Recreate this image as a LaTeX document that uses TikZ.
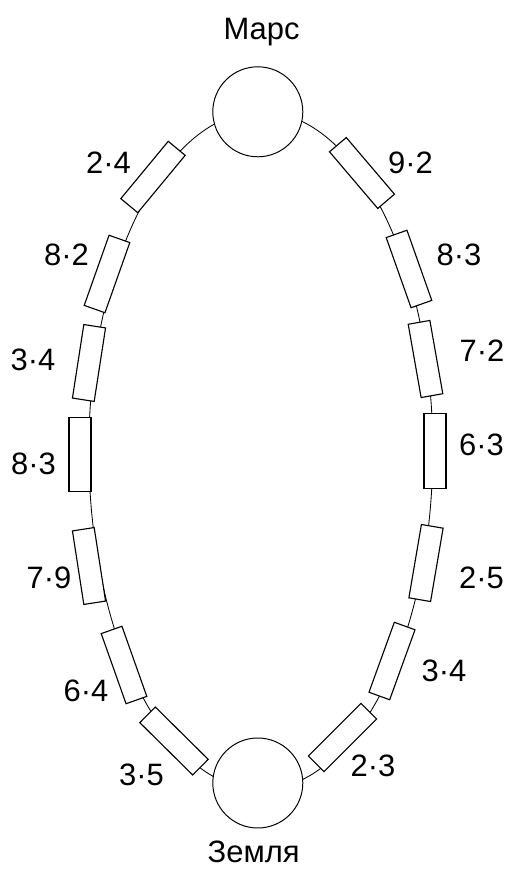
\documentclass[tikz,border=0pt]{standalone}
\usepackage{fontspec}
\setmainfont{Liberation Sans}

\begin{document}
\begin{tikzpicture}[
		planet/.style={circle, draw, line width=0.7pt, fill=white, minimum size=2.25cm, inner sep=0pt},
		modul/.style={rectangle, draw, line width=0.8pt, fill=white, minimum width=1.86cm, minimum height=0.55cm, inner sep=0pt},
		num/.style={font=\fontsize{22}{26}\selectfont, inner sep=0pt}
	]
			%%%%% START %%%%%
			
			\useasboundingbox (0, 0) rectangle (12.7, 21.725);
			
			\draw[line width=0.6pt] (6.52, 10.46) ellipse (4.3 and 8.475);
			
			\node[planet] (mars) at (6.445, 18.93) {};
			\node[planet] (zemlya) at (6.445, 2.15) {};
			\node[num, anchor=base] (marsname) at (6.54, 20.73) {Марс};
			\node[num, anchor=base] (zemlyaname) at (6.34, 0.15) {Земля};
			
			% left side, top to bottom
			\node[modul, rotate=50.4] (l1) at (3.825, 17.3) {};
			\node[modul, rotate=70.5] (l2) at (2.675, 14.875) {};
			\node[modul, rotate=81.2] (l3) at (2.225, 12.65) {};
			\node[modul, rotate=90] (l4) at (2.0, 10.3625) {};
			\node[modul, rotate=98.8] (l5) at (2.225, 7.575) {};
			\node[modul, rotate=109.5] (l6) at (3.1, 5.1) {};
			\node[modul, rotate=135.3] (l7) at (4.35, 3.2) {};
			
			\node[num] (l1t) at (2.7125, 17.6625) {2·4};
			\node[num] (l2t) at (1.6625, 15.35) {8·2};
			\node[num] (l3t) at (0.825, 12.7375) {3·4};
			\node[num] (l4t) at (0.8375, 10.125) {8·3};
			\node[num] (l5t) at (1.225, 7.2875) {7·9};
			\node[num] (l6t) at (2.15, 4.45) {6·4};
			\node[num] (l7t) at (3.5375, 2.35) {3·5};
			
			% right side, top to bottom
			\node[modul, rotate=130.4] (r1) at (9.05, 17.4) {};
			\node[modul, rotate=109.5] (r2) at (10.225, 15.0) {};
			\node[modul, rotate=100] (r3) at (10.6375, 12.75) {};
			\node[modul, rotate=90] (r4) at (10.875, 10.45) {};
			\node[modul, rotate=80.3] (r5) at (10.65, 7.65) {};
			\node[modul, rotate=70.1] (r6) at (9.8, 5.2) {};
			\node[modul, rotate=45] (r7) at (8.5625, 3.2875) {};
			
			\node[num] (r1t) at (10.2625, 17.6625) {9·2};
			\node[num] (r2t) at (11.475, 15.35) {8·3};
			\node[num] (r3t) at (12.05, 12.95) {7·2};
			\node[num] (r4t) at (12.0375, 10.6) {6·3};
			\node[num] (r5t) at (12.0375, 7.2875) {2·5};
			\node[num] (r6t) at (11.1, 4.95) {3·4};
			\node[num] (r7t) at (9.325, 2.5875) {2·3};
			
			%%%%% END %%%%%
\end{tikzpicture}
\end{document}
